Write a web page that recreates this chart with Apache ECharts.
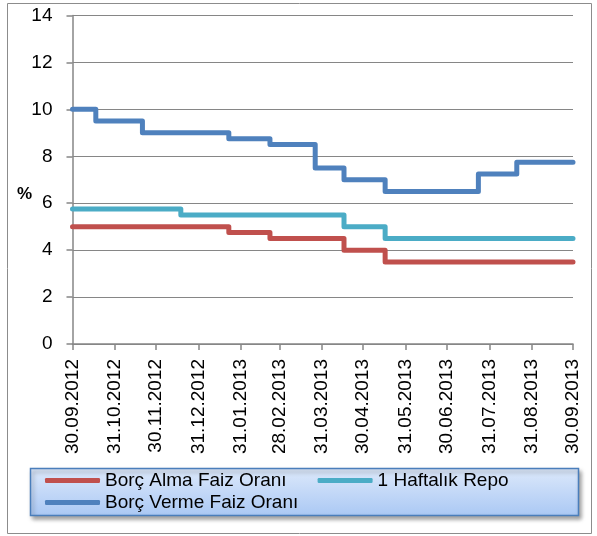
<!DOCTYPE html>
<html>
<head>
<meta charset="utf-8">
<title>Faiz Koridoru</title>
<script src="https://cdn.jsdelivr.net/npm/echarts@6/dist/echarts.min.js"></script>
<style>
  html, body { margin: 0; padding: 0; background: #fff; }
  #chart { width: 597px; height: 536px; }
</style>
</head>
<body>
<div id="chart"></div>
<script>
// month-end tick labels on the x axis
const monthEnds = [
  "30.09.2012", "31.10.2012", "30.11.2012", "31.12.2012", "31.01.2013", "28.02.2013",
  "31.03.2013", "30.04.2013", "31.05.2013", "30.06.2013", "31.07.2013", "31.08.2013", "30.09.2013",
];

// rate change points [date, new value %]
const borcAlma = [
  ["2012-09-30", 5.0], ["2013-01-22", 4.75], ["2013-02-21", 4.5],
  ["2013-04-16", 4.0], ["2013-05-16", 3.5], ["2013-09-30", 3.5],
];
const haftalikRepo = [
  ["2012-09-30", 5.75], ["2012-12-18", 5.5], ["2013-04-16", 5.0],
  ["2013-05-16", 4.5], ["2013-09-30", 4.5],
];
const borcVerme = [
  ["2012-09-30", 10.0], ["2012-10-17", 9.5], ["2012-11-20", 9.0], ["2013-01-22", 8.75],
  ["2013-02-21", 8.5], ["2013-03-26", 7.5], ["2013-04-16", 7.0], ["2013-05-16", 6.5],
  ["2013-07-23", 7.25], ["2013-08-20", 7.75], ["2013-09-30", 7.75],
];

const yTicks = { min: 0, max: 14, step: 2 };

const FONT = "'Liberation Sans', Arial, sans-serif";
const AXIS_GRAY = "#868686";
const FS = 19;

// dates are handled as UTC ms so the x axis can be a plain value axis
function isoToMs(s) {
  const [y, m, d] = s.split("-").map(Number);
  return Date.UTC(y, m - 1, d);
}
function labelToMs(s) {
  const [d, m, y] = s.split(".").map(Number);
  return Date.UTC(y, m - 1, d);
}
function pad(n) { return n < 10 ? "0" + n : "" + n; }
function fmtDate(v) {
  const d = new Date(v);
  return pad(d.getUTCDate()) + "." + pad(d.getUTCMonth() + 1) + "." + d.getUTCFullYear();
}

const tickMs = monthEnds.map(labelToMs);

function lineSeries(name, color, points) {
  return {
    name,
    type: "line",
    step: "end",
    showSymbol: false,
    symbol: "none",
    data: points.map(([d, v]) => [isoToMs(d), v]),
    lineStyle: { color, width: 5, cap: "round", join: "round" },
    itemStyle: { color },
    emphasis: { disabled: true },
  };
}

const chart = echarts.init(document.getElementById("chart"));
chart.setOption({
  animation: false,
  textStyle: { fontFamily: FONT },
  grid: { left: 72.5, right: 24, top: 15.5, bottom: 192, containLabel: false },
  graphic: [
    {
      type: "rect",
      z: -10,
      shape: { x: 7.5, y: 3.5, width: 584, height: 530 },
      style: { fill: "none", stroke: "#8c8c8c", lineWidth: 1 },
    },
    {
      type: "rect",
      z: 1,
      shape: { x: 30.5, y: 468.5, width: 548, height: 47 },
      style: {
        fill: new echarts.graphic.LinearGradient(0, 0, 0, 1, [
          { offset: 0, color: "#dde9fb" },
          { offset: 1, color: "#aac8f4" },
        ]),
        stroke: "#4a7ebb",
        lineWidth: 1.5,
        shadowBlur: 4,
        shadowOffsetX: 2,
        shadowOffsetY: 3,
        shadowColor: "rgba(0,0,0,0.35)",
      },
    },
    {
      // y axis unit, sits just left of the "6" label
      type: "text",
      z: 5,
      left: 17,
      top: 186,
      style: { text: "%", font: "bold 17px " + FONT, fill: "#000" },
    },
  ],
  legend: [
    {
      data: ["Borç Alma Faiz Oranı", "1 Haftalık Repo"],
      left: 45,
      top: 470,
      padding: 0,
      itemGap: 31,
      itemWidth: 55,
      itemHeight: 5,
      icon: "roundRect",
      textStyle: { fontFamily: FONT, fontSize: FS, color: "#000", lineHeight: 21 },
      z: 10,
    },
    {
      data: ["Borç Verme Faiz Oranı"],
      left: 45,
      top: 492,
      padding: 0,
      itemWidth: 55,
      itemHeight: 5,
      icon: "roundRect",
      textStyle: { fontFamily: FONT, fontSize: FS, color: "#000", lineHeight: 21 },
      z: 10,
    },
  ],
  xAxis: {
    type: "value",
    min: tickMs[0],
    max: tickMs[tickMs.length - 1],
    axisLine: { show: true, onZero: false, lineStyle: { color: AXIS_GRAY, width: 1.5 } },
    axisTick: { show: true, length: 6, customValues: tickMs, lineStyle: { color: AXIS_GRAY, width: 1.5 } },
    axisLabel: {
      customValues: tickMs,
      rotate: 90,
      margin: 15,
      fontSize: FS,
      color: "#000",
      fontFamily: FONT,
      formatter: (v) => fmtDate(v),
      hideOverlap: false,
    },
    splitLine: { show: false },
  },
  yAxis: {
    type: "value",
    min: yTicks.min,
    max: yTicks.max,
    interval: yTicks.step,
    axisLine: { show: true, lineStyle: { color: AXIS_GRAY, width: 1.5 } },
    axisTick: { show: true, length: 6, lineStyle: { color: AXIS_GRAY, width: 1.5 } },
    axisLabel: { margin: 20, fontSize: FS, color: "#000", fontFamily: FONT },
    splitLine: { show: true, lineStyle: { color: AXIS_GRAY, width: 1.2 } },
  },
  series: [
    lineSeries("Borç Alma Faiz Oranı", "#c0504d", borcAlma),
    lineSeries("1 Haftalık Repo", "#4bacc6", haftalikRepo),
    lineSeries("Borç Verme Faiz Oranı", "#4f81bd", borcVerme),
  ],
});

window.addEventListener("resize", () => {
  if (chart && !chart.isDisposed()) chart.resize();
});
</script>
</body>
</html>
